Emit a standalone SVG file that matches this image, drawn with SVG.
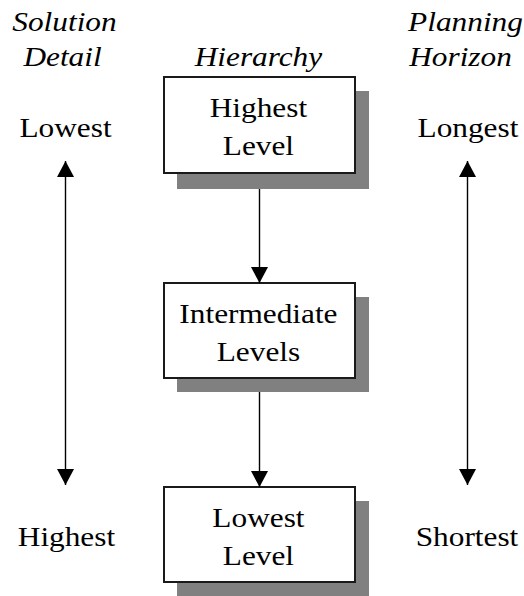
<svg xmlns="http://www.w3.org/2000/svg" width="524" height="596" viewBox="0 0 524 596">
<style>
text{font-family:"Liberation Serif","Times New Roman",serif;font-size:27px;fill:#000;text-anchor:middle}
.h{font-style:italic}
.shadow{fill:#808080}
.box{fill:#fff;stroke:#1a1a1a;stroke-width:2}
.conn{stroke:#000;stroke-width:1.4;fill:none}
</style>
<defs>
<marker id="ah" viewBox="0 0 16 17" refX="16" refY="8.5" markerWidth="16" markerHeight="17" markerUnits="userSpaceOnUse" orient="auto-start-reverse">
<path d="M0,0 L16,8.5 L0,17 Z" fill="#000"/>
</marker>
</defs>
<rect width="524" height="596" fill="#fff"/>
<g id="headers" transform="scale(1.16,1)">
<text class="h" x="55.6" y="31">Solution</text>
<text class="h" x="53.9" y="66">Detail</text>
<text class="h" x="222.8" y="66">Hierarchy</text>
<text class="h" x="401.3" y="31">Planning</text>
<text class="h" x="397" y="66">Horizon</text>
</g>
<g id="side-labels" transform="scale(1.16,1)">
<text x="56.5" y="137">Lowest</text>
<text x="403.4" y="137">Longest</text>
<text x="57.3" y="546">Highest</text>
<text x="402.6" y="546">Shortest</text>
</g>
<g id="node-highest">
<rect class="shadow" x="177" y="91" width="192" height="98"/>
<rect class="box" x="164" y="77" width="191" height="96"/>
<text transform="scale(1.16,1)" x="222.8" y="117">Highest</text>
<text transform="scale(1.16,1)" x="222.8" y="155">Level</text>
</g>
<g id="node-intermediate">
<rect class="shadow" x="177" y="297" width="192" height="95"/>
<rect class="box" x="164" y="283" width="191" height="95"/>
<text transform="scale(1.16,1)" x="222.8" y="323">Intermediate</text>
<text transform="scale(1.16,1)" x="222.8" y="361">Levels</text>
</g>
<g id="node-lowest">
<rect class="shadow" x="177" y="501" width="192" height="98"/>
<rect class="box" x="164" y="487" width="191" height="95"/>
<text transform="scale(1.16,1)" x="222.8" y="527">Lowest</text>
<text transform="scale(1.16,1)" x="222.8" y="565">Level</text>
</g>
<g id="connectors">
<line class="conn" x1="259.5" y1="189" x2="259.5" y2="283" marker-end="url(#ah)"/>
<line class="conn" x1="259.5" y1="392" x2="259.5" y2="487" marker-end="url(#ah)"/>
<line class="conn" x1="65.5" y1="161" x2="65.5" y2="485" marker-start="url(#ah)" marker-end="url(#ah)"/>
<line class="conn" x1="467.5" y1="161" x2="467.5" y2="485" marker-start="url(#ah)" marker-end="url(#ah)"/>
</g>
</svg>
